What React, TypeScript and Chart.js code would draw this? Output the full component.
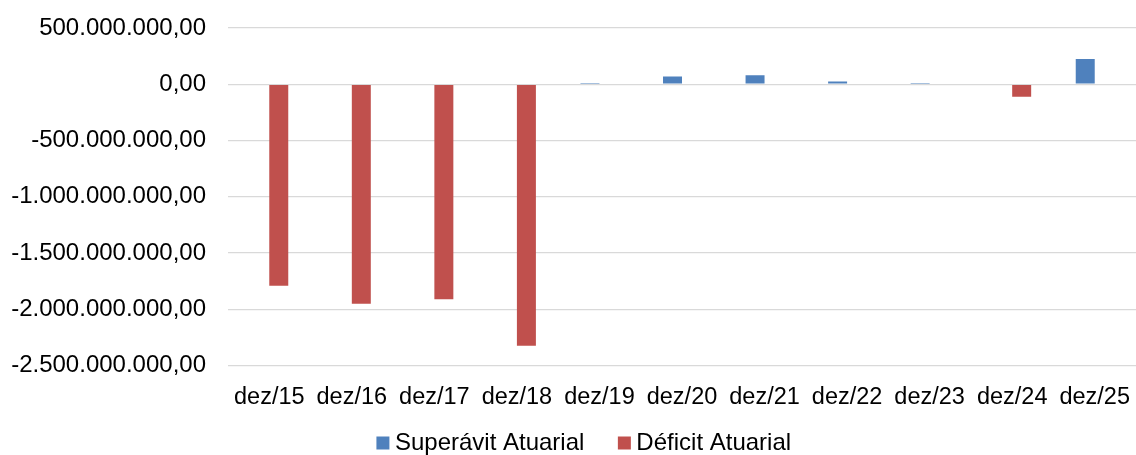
import React, { useEffect, useRef } from "react";
import { Chart, registerables } from "chart.js";

Chart.register(...registerables);

const categories = ["dez/15", "dez/16", "dez/17", "dez/18", "dez/19", "dez/20", "dez/21", "dez/22", "dez/23", "dez/24", "dez/25"];
const superavit = [null, null, null, null, 3000000, 68000000, 80000000, 24000000, 2000000, null, 225000000];
const deficit = [-1790000000, -1950000000, -1910000000, -2325000000, null, null, null, null, null, -112000000, null];
const seriesNames = ["Superávit Atuarial", "Déficit Atuarial"];
const seriesColors = ["#4F81BD", "#C0504D"];

function fmt(v: number): string {
  const neg = v < 0;
  const a = Math.abs(v);
  const intPart = Math.floor(a).toString().replace(/\B(?=(\d{3})+(?!\d))/g, ".");
  const dec = Math.round((a - Math.floor(a)) * 100).toString().padStart(2, "0");
  return (neg ? "-" : "") + intPart + "," + dec;
}

const placeLegend = {
  id: "placeLegend",
  afterLayout(chart: any) {
    const lg = chart.legend;
    if (lg) {
      lg.left += 19;
      lg.right += 19;
      lg.top = 391;
      lg.bottom = 455;
      lg.height = 64;
    }
  },
};

export default function App() {
  const ref = useRef<HTMLCanvasElement | null>(null);
  useEffect(() => {
    if (!ref.current) return;
    const family = "'Liberation Sans', Arial, sans-serif";
    const chart = new Chart(ref.current, {
      type: "bar",
      data: {
        labels: categories,
        datasets: [
          { label: seriesNames[0], data: superavit as any, backgroundColor: seriesColors[0], categoryPercentage: 0.46, barPercentage: 1.0 } as any,
          { label: seriesNames[1], data: deficit as any, backgroundColor: seriesColors[1], categoryPercentage: 0.46, barPercentage: 1.0 } as any,
        ],
      },
      plugins: [placeLegend],
      options: {
        animation: false,
        responsive: false,
        maintainAspectRatio: false,
        layout: { autoPadding: false, padding: { top: 28, right: 0, left: 0, bottom: 0 } },
        plugins: {
          tooltip: { enabled: false },
          legend: {
            position: "bottom",
            maxHeight: 44.5,
            labels: {
              font: { family, size: 24 },
              color: "#000",
              usePointStyle: true,
              pointStyle: "rect",
              boxWidth: 0.01,
              boxHeight: 13,
              padding: 40,
            },
          },
        },
        scales: {
          x: {
            grid: { display: false, drawTicks: false },
            border: { display: false },
            ticks: { font: { family, size: 23.5 }, color: "#000", padding: 18, maxRotation: 0, autoSkip: false },
            afterFit: (s: any) => { s.height = 45; s.paddingLeft = 0; s.paddingRight = 0; },
          },
          y: {
            min: -2500000000,
            max: 500000000,
            grid: { color: "#D9D9D9", lineWidth: 1.3, drawTicks: false },
            border: { display: false },
            ticks: { stepSize: 500000000, font: { family, size: 24 }, color: "#000", padding: 22, callback: (v: any) => fmt(Number(v)) },
            afterFit: (s: any) => { s.width = 228; s.paddingTop = 0; s.paddingBottom = 0; },
          },
        },
      },
    });
    return () => chart.destroy();
  }, []);
  return (
    <div style={{ position: "absolute", left: 0, top: 0, width: 1136, height: 455, background: "#fff" }}>
      <canvas ref={ref} width={1136} height={455} style={{ width: 1136, height: 455 }} />
    </div>
  );
}
